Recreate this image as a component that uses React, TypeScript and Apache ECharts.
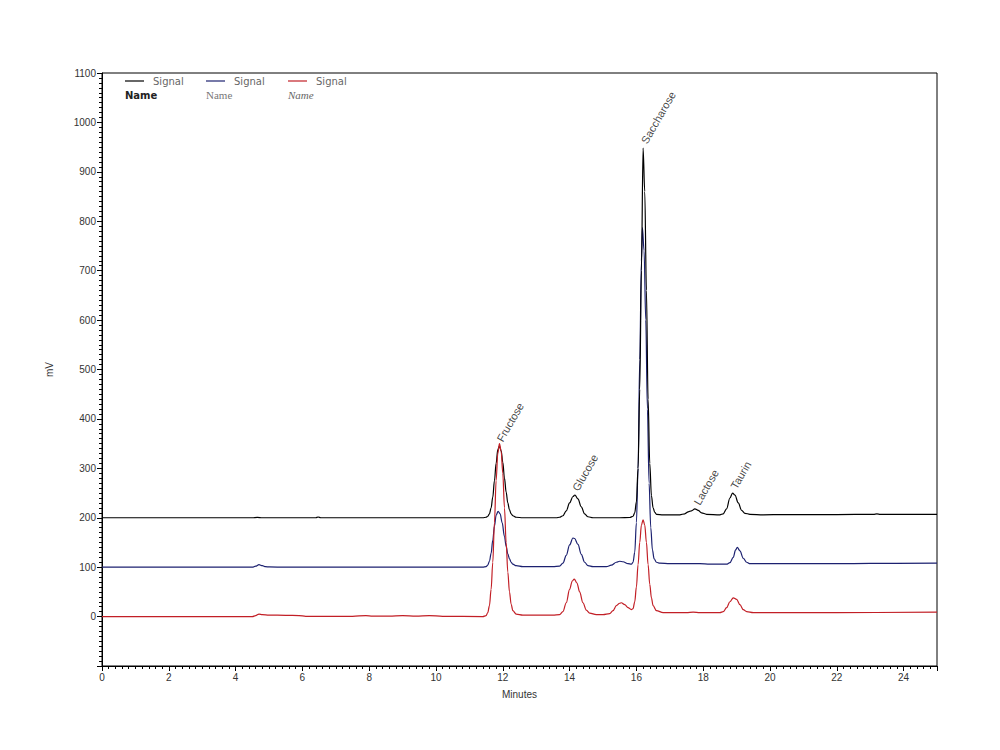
import React, { useEffect, useRef } from "react";
import * as echarts from "echarts";

const xTickInterval = 2;
const yTickInterval = 100;

const seriesNames = ["Signal A", "Signal B", "Signal C"];
const seriesColors = ["#000000", "#1c2170", "#c21f26"];

const blackSignal: [number, number][] = [
  [0, 200], [2, 200], [4.5, 200], [4.65, 200.8], [4.8, 200], [6.4, 200], [6.47, 201.5], [6.55, 200],
  [11.4, 200], [11.5, 201], [11.55, 203], [11.6, 208], [11.65, 220], [11.7, 242], [11.75, 275],
  [11.8, 310], [11.85, 338], [11.9, 345], [11.95, 336], [12.0, 312], [12.05, 280], [12.1, 252],
  [12.15, 230], [12.2, 216], [12.25, 208], [12.3, 204], [12.4, 201], [12.6, 200], [13.6, 200],
  [13.7, 201], [13.8, 204], [13.9, 214], [14.0, 230], [14.1, 243], [14.16, 246], [14.25, 238],
  [14.35, 222], [14.45, 208], [14.55, 202], [14.7, 200], [15.5, 200], [15.8, 200.5], [15.9, 203],
  [15.95, 210], [16.0, 232], [16.05, 300], [16.1, 460], [16.15, 700], [16.2, 948], [16.25, 860],
  [16.3, 660], [16.35, 440], [16.4, 310], [16.45, 245], [16.5, 220], [16.55, 211], [16.6, 207],
  [16.8, 206], [17.3, 206], [17.45, 208], [17.55, 212], [17.65, 214], [17.75, 218], [17.85, 215],
  [17.95, 210], [18.1, 207], [18.5, 206], [18.6, 208], [18.7, 218], [18.8, 240], [18.88, 250],
  [18.95, 246], [19.05, 230], [19.15, 215], [19.25, 209], [19.4, 207], [19.8, 206], [20.4, 206.5],
  [21, 206.5], [22, 206.5], [23.1, 207], [23.2, 208], [23.3, 207], [24, 207], [25, 207],
];

const blueSignal: [number, number][] = [
  [0, 100], [4.5, 100], [4.6, 102], [4.7, 105], [4.8, 103], [4.9, 101], [5.0, 100.5], [5.5, 100],
  [11.4, 100], [11.5, 101], [11.55, 104], [11.6, 112], [11.65, 128], [11.7, 155], [11.75, 183],
  [11.8, 205], [11.86, 213], [11.92, 208], [11.98, 190], [12.05, 162], [12.1, 142], [12.15, 127],
  [12.2, 117], [12.25, 110], [12.3, 106], [12.4, 103], [12.6, 101], [13.5, 101], [13.7, 102],
  [13.8, 108], [13.9, 124], [14.0, 145], [14.1, 159], [14.15, 158], [14.25, 146], [14.35, 126],
  [14.45, 110], [14.55, 103], [14.7, 101], [15.1, 101], [15.25, 104], [15.4, 110], [15.5, 112],
  [15.6, 111], [15.75, 107], [15.85, 106], [15.9, 110], [15.95, 130], [16.0, 190], [16.05, 300],
  [16.1, 520], [16.15, 720], [16.18, 787], [16.23, 740], [16.28, 600], [16.33, 420], [16.38, 270],
  [16.43, 180], [16.48, 135], [16.53, 117], [16.6, 110], [16.7, 108], [17.0, 107], [17.5, 107],
  [17.9, 107], [18.2, 106], [18.7, 106], [18.8, 109], [18.9, 120], [18.97, 135], [19.02, 140],
  [19.1, 133], [19.2, 118], [19.3, 110], [19.4, 107], [20, 107], [21, 107], [22, 107], [23, 107.5],
  [25, 108],
];

const redSignal: [number, number][] = [
  [0, 0], [4.5, 0], [4.6, 2], [4.7, 5], [4.8, 4], [5.0, 3], [5.5, 2.5], [5.9, 2], [6.1, 0.5],
  [7.5, 0.5], [7.9, 2], [8.1, 1], [8.6, 1], [9.0, 2], [9.4, 1], [9.8, 2], [10.2, 0.5], [11.4, 0],
  [11.5, 2], [11.55, 8], [11.6, 22], [11.65, 55], [11.7, 110], [11.75, 190], [11.8, 275],
  [11.85, 330], [11.9, 350], [11.95, 335], [12.0, 290], [12.05, 220], [12.1, 150], [12.15, 90],
  [12.2, 50], [12.25, 25], [12.3, 12], [12.4, 5], [12.6, 3], [13.2, 3], [13.5, 3], [13.7, 4],
  [13.8, 10], [13.9, 28], [14.0, 55], [14.08, 72], [14.14, 76], [14.22, 68], [14.3, 50],
  [14.4, 28], [14.5, 13], [14.6, 7], [14.8, 4], [15.0, 4], [15.2, 6], [15.3, 12], [15.4, 22],
  [15.5, 27], [15.55, 28], [15.65, 24], [15.75, 18], [15.85, 14], [15.9, 16], [15.95, 30],
  [16.0, 60], [16.05, 105], [16.1, 150], [16.15, 185], [16.2, 196], [16.25, 185], [16.3, 150],
  [16.35, 105], [16.4, 65], [16.45, 38], [16.5, 22], [16.6, 12], [16.8, 8], [17.5, 8], [17.7, 9],
  [17.9, 8], [18.5, 8], [18.6, 10], [18.7, 18], [18.8, 30], [18.9, 38], [19.0, 35], [19.1, 24],
  [19.2, 14], [19.3, 10], [19.5, 8], [20, 8], [22, 8], [25, 9],
];

// peak annotations: [minutes, mV, name]
const peakLabels: [number, number, string][] = [
  [11.9, 352, "Fructose"],
  [14.16, 252, "Glucose"],
  [16.22, 955, "Saccharose"],
  [17.8, 224, "Lactose"],
  [18.9, 256, "Taurin"],
];

const legendSignal = ["Signal", "Signal", "Signal"];
const legendName = ["Name", "Name", "Name"];

const FONT = "Arial, 'Liberation Sans', sans-serif";

export default function App() {
  const ref = useRef<HTMLDivElement>(null);
  useEffect(() => {
    if (!ref.current) return;
    const chart = echarts.init(ref.current, null, { renderer: "svg" });
    const signals = [blackSignal, blueSignal, redSignal];
    const zOrder = [3, 2, 4];
    const legendX = [125, 206, 288];
    const nameStyles = [
      { fontFamily: "'DejaVu Sans', sans-serif", fontWeight: "bold", fill: "#222", fontStyle: "normal" },
      { fontFamily: "'Liberation Serif', serif", fontWeight: "normal", fill: "#777", fontStyle: "normal" },
      { fontFamily: "'Liberation Serif', serif", fontWeight: "normal", fill: "#666", fontStyle: "italic" },
    ];
    const graphics: any[] = [];
    legendX.forEach((lx, i) => {
      graphics.push({
        type: "line",
        shape: { x1: lx, y1: 81, x2: lx + 19, y2: 81 },
        style: { stroke: seriesColors[i], lineWidth: 1.2 },
        z: 100,
      });
      graphics.push({
        type: "text",
        x: lx + 28,
        y: 81,
        style: {
          text: legendSignal[i],
          fontFamily: "'DejaVu Sans', sans-serif",
          fontSize: 10,
          fill: "#666",
          verticalAlign: "middle",
        },
        z: 100,
      });
      graphics.push({
        type: "text",
        x: lx,
        y: 95,
        style: {
          text: legendName[i],
          fontSize: i === 0 ? 10 : 11,
          verticalAlign: "middle",
          ...nameStyles[i],
        },
        z: 100,
      });
    });

    chart.setOption({
      animation: false,
      backgroundColor: "#ffffff",
      grid: {
        left: 102,
        right: 63,
        top: 73,
        bottom: 84,
        show: true,
        borderColor: "#000",
        borderWidth: 1,
        backgroundColor: "transparent",
      },
      xAxis: {
        type: "value",
        min: 0,
        max: 25,
        interval: xTickInterval,
        name: "Minutes",
        nameLocation: "middle",
        nameGap: 23,
        nameTextStyle: { fontFamily: FONT, fontSize: 10, color: "#333" },
        axisLine: { show: true, onZero: false, lineStyle: { color: "#000", width: 1 } },
        axisTick: { show: true, length: 5, lineStyle: { color: "#000" } },
        minorTick: { show: true, splitNumber: 10, length: 3, lineStyle: { color: "#000" } },
        splitLine: { show: false },
        axisLabel: { fontFamily: FONT, fontSize: 10, color: "#333", margin: 6, showMaxLabel: false },
      },
      yAxis: {
        type: "value",
        min: -100,
        max: 1100,
        interval: yTickInterval,
        name: "mV",
        nameLocation: "middle",
        nameGap: 48,
        nameRotate: 90,
        nameTextStyle: { fontFamily: FONT, fontSize: 10, color: "#333" },
        axisLine: { show: true, onZero: false, lineStyle: { color: "#000", width: 1 } },
        axisTick: { show: true, length: 5, lineStyle: { color: "#000" } },
        minorTick: { show: true, splitNumber: 10, length: 3, lineStyle: { color: "#000" } },
        splitLine: { show: false },
        axisLabel: {
          fontFamily: FONT,
          fontSize: 10,
          color: "#333",
          margin: 6,
          formatter: (v: number) => (v < 0 ? "" : String(v)),
        },
      },
      series: [
        ...signals.map((d, i) => ({
          name: seriesNames[i],
          type: "line",
          data: d,
          showSymbol: false,
          symbol: "none",
          smooth: 0.35,
          smoothMonotone: "x",
          lineStyle: { color: seriesColors[i], width: 1.2 },
          itemStyle: { color: seriesColors[i] },
          z: zOrder[i],
        })),
        {
          name: "peaks",
          type: "scatter",
          data: peakLabels,
          symbolSize: 0,
          z: 10,
          silent: true,
          label: {
            show: true,
            position: "top",
            distance: 2,
            rotate: 60,
            align: "left",
            verticalAlign: "middle",
            fontFamily: FONT,
            fontSize: 11,
            color: "#111",
            formatter: (p: any) => p.data[2],
          },
        },
      ],
      graphic: graphics,
    });
    return () => chart.dispose();
  }, []);
  return (
    <div
      ref={ref}
      style={{ position: "fixed", left: 0, top: 0, width: 1000, height: 750, background: "#fff" }}
    />
  );
}
